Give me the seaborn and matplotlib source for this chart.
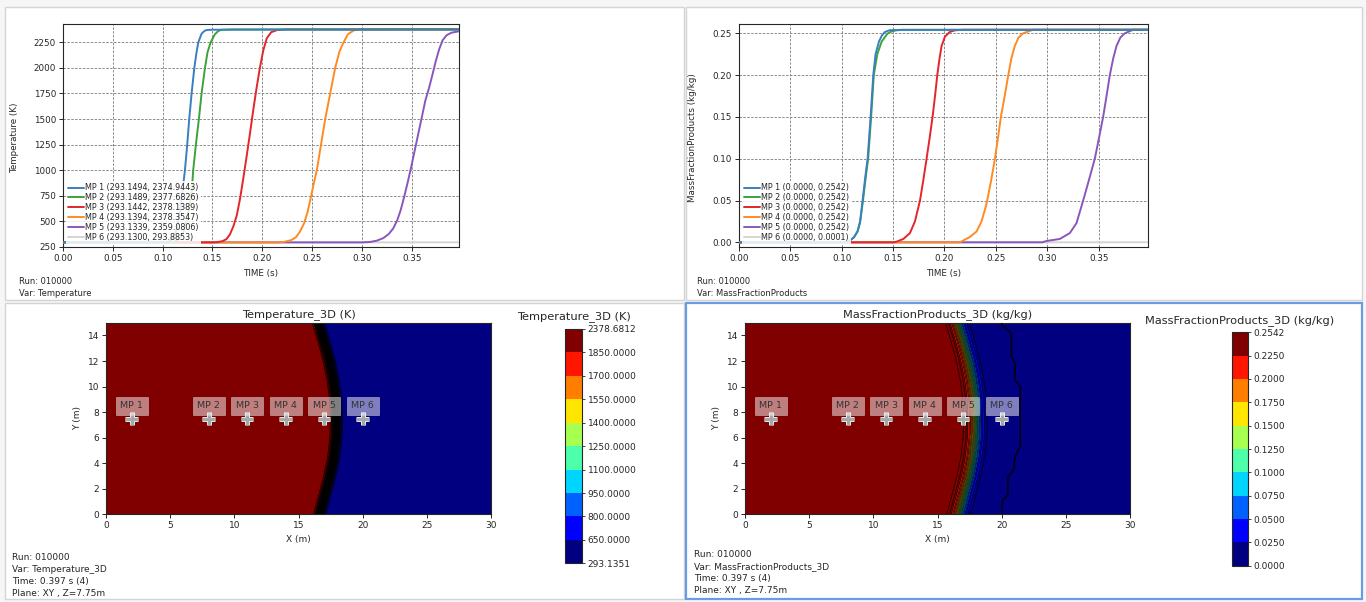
import numpy as np
import matplotlib
matplotlib.use("Agg")
import matplotlib.pyplot as plt
import matplotlib.patheffects as pe
from matplotlib.colors import BoundaryNorm
from matplotlib.patches import Rectangle
from matplotlib.ticker import FormatStrFormatter, MultipleLocator
import seaborn as sns

# ------------------------------------------------------------------
# Monitoring-point histories
# ------------------------------------------------------------------
mp_names = ["MP 1", "MP 2", "MP 3", "MP 4", "MP 5", "MP 6"]
mp_colors = ["#3a7fc1", "#3aa33a", "#e2262a", "#ff8a22", "#8a56bd", "#d4d4d4"]

# Temperature (K)
temp_t_mp1 = [0.000, 0.100, 0.106, 0.110, 0.114, 0.117, 0.1195, 0.1224, 0.1247, 0.1267, 0.1291,
              0.1318, 0.1340, 0.1358, 0.1391, 0.1420, 0.1442, 0.1500, 0.2000, 0.3975]
temp_v_mp1 = [293.1494, 293.1494, 300.0, 330.0, 420.0, 560.0, 760.0, 1000.0, 1250.0, 1500.0, 1750.0,
              2000.0, 2150.0, 2250.0, 2335.0, 2362.0, 2371.0, 2374.0, 2374.8, 2374.9443]
temp_t_mp2 = [0.000, 0.106, 0.112, 0.117, 0.121, 0.124, 0.127, 0.1295, 0.1307, 0.1334, 0.1364,
              0.1391, 0.1425, 0.1450, 0.1482, 0.1525, 0.1560, 0.1590, 0.1700, 0.3975]
temp_v_mp2 = [293.1489, 293.1489, 300.0, 330.0, 400.0, 500.0, 650.0, 830.0, 1000.0, 1250.0, 1500.0,
              1750.0, 2000.0, 2150.0, 2250.0, 2330.0, 2362.0, 2373.0, 2377.0, 2377.6826]
temp_t_mp3 = [0.000, 0.150, 0.155, 0.160, 0.164, 0.1675, 0.171, 0.1745, 0.1777, 0.181, 0.1844,
              0.1877, 0.191, 0.1944, 0.1978, 0.201, 0.2045, 0.209, 0.215, 0.225, 0.3975]
temp_v_mp3 = [293.1442, 293.1442, 296.0, 305.0, 325.0, 370.0, 450.0, 560.0, 720.0, 920.0, 1140.0,
              1360.0, 1590.0, 1810.0, 2010.0, 2170.0, 2290.0, 2350.0, 2371.0, 2377.5, 2378.1389]
temp_t_mp4 = [0.000, 0.215, 0.222, 0.229, 0.234, 0.238, 0.242, 0.2455, 0.2485, 0.2515, 0.2548,
              0.2590, 0.2632, 0.2682, 0.2732, 0.2775, 0.2816, 0.2860, 0.2920, 0.3000, 0.3975]
temp_v_mp4 = [293.1394, 293.1394, 298.0, 315.0, 345.0, 400.0, 480.0, 590.0, 720.0, 860.0, 1000.0,
              1250.0, 1500.0, 1750.0, 2000.0, 2160.0, 2250.0, 2330.0, 2368.0, 2377.0, 2378.3547]
temp_t_mp5 = [0.000, 0.300, 0.308, 0.315, 0.3215, 0.327, 0.3315, 0.3355, 0.3390, 0.3425, 0.3460,
              0.3495, 0.3530, 0.3565, 0.3600, 0.3637, 0.3670, 0.3705, 0.3740, 0.3775, 0.3810,
              0.3850, 0.3900, 0.3975]
temp_v_mp5 = [293.1339, 293.1339, 297.0, 310.0, 335.0, 375.0, 430.0, 510.0, 610.0, 740.0, 880.0,
              1030.0, 1190.0, 1350.0, 1510.0, 1680.0, 1790.0, 1920.0, 2060.0, 2180.0, 2270.0,
              2320.0, 2345.0, 2359.0806]
temp_t_mp6 = [0.000, 0.100, 0.200, 0.300, 0.350, 0.3975]
temp_v_mp6 = [293.1300, 293.1300, 293.1350, 293.2000, 293.5000, 293.8853]

# Mass fraction of products (kg/kg)
mf_t_mp1 = [0.000, 0.104, 0.108, 0.112, 0.1155, 0.1180, 0.1204, 0.1230, 0.1253, 0.1282, 0.1308,
            0.1330, 0.1363, 0.1390, 0.1420, 0.1470, 0.1600, 0.3975]
mf_v_mp1 = [0.0, 0.0, 0.002, 0.006, 0.013, 0.025, 0.050, 0.078, 0.100, 0.150, 0.200,
            0.225, 0.240, 0.247, 0.2515, 0.2538, 0.2541, 0.2542]
mf_t_mp2 = [0.000, 0.104, 0.108, 0.112, 0.1155, 0.1180, 0.1208, 0.1235, 0.1258, 0.1287, 0.1313,
            0.1347, 0.1389, 0.1445, 0.1486, 0.1530, 0.1580, 0.3975]
mf_v_mp2 = [0.0, 0.0, 0.002, 0.006, 0.013, 0.024, 0.050, 0.078, 0.100, 0.150, 0.200,
            0.225, 0.240, 0.2495, 0.2522, 0.2535, 0.2541, 0.2542]
mf_t_mp3 = [0.000, 0.150, 0.1535, 0.160, 0.1664, 0.1713, 0.1762, 0.1795, 0.1826, 0.1856, 0.1884,
            0.1908, 0.1930, 0.1952, 0.1972, 0.2005, 0.2050, 0.2100, 0.2182, 0.3975]
mf_v_mp3 = [0.0, 0.0, 0.0008, 0.004, 0.011, 0.025, 0.050, 0.075, 0.100, 0.125, 0.150,
            0.175, 0.200, 0.220, 0.235, 0.246, 0.2515, 0.2535, 0.2542, 0.2542]
mf_t_mp4 = [0.000, 0.215, 0.2247, 0.2312, 0.2360, 0.2402, 0.2415, 0.2455, 0.2490, 0.2520, 0.2548,
            0.2585, 0.2620, 0.2650, 0.2684, 0.2720, 0.2765, 0.2862, 0.3975]
mf_v_mp4 = [0.0, 0.0, 0.0064, 0.013, 0.025, 0.043, 0.050, 0.075, 0.100, 0.125, 0.150,
            0.175, 0.200, 0.220, 0.235, 0.245, 0.250, 0.2542, 0.2542]
mf_t_mp5 = [0.000, 0.295, 0.2992, 0.3120, 0.3218, 0.3283, 0.3348, 0.3405, 0.3461, 0.3502, 0.3542,
            0.3575, 0.3607, 0.3640, 0.3672, 0.3710, 0.3753, 0.3834, 0.3975]
mf_v_mp5 = [0.0, 0.0, 0.0016, 0.004, 0.011, 0.023, 0.050, 0.075, 0.100, 0.125, 0.150,
            0.175, 0.200, 0.220, 0.235, 0.245, 0.250, 0.2542, 0.2542]
mf_t_mp6 = [0.000, 0.200, 0.300, 0.3975]
mf_v_mp6 = [0.0, 0.0, 0.00002, 0.0001]

# ------------------------------------------------------------------
# Plane slice XY, Z = 7.75 m
# ------------------------------------------------------------------
# flame front centre line (x at given y)
front_y = [0.0, 1.5, 3.0, 4.5, 6.0, 7.5, 9.0, 10.5, 12.0, 13.5, 15.0]
front_x = [16.65, 17.05, 17.45, 17.75, 17.92, 17.95, 17.90, 17.70, 17.40, 17.00, 16.55]
# outer edge of the product precursor
precursor_y = [0.0, 1.12, 1.51, 2.95, 3.47, 4.51, 5.30, 9.99, 10.51, 11.82, 12.34, 14.17, 14.82, 15.0]
precursor_x = [20.0, 20.08, 20.49, 20.49, 20.94, 21.04, 21.45, 21.45, 21.04, 21.04, 20.77, 20.77, 20.0, 20.0]

temp_range = [293.1351, 2378.6812]
mf_range = [0.0, 0.2542]
temp_levels = [293.1351, 650.0, 800.0, 950.0, 1100.0, 1250.0, 1400.0, 1550.0, 1700.0, 1850.0, 2378.6812]
mf_levels = [0.0, 0.025, 0.05, 0.075, 0.10, 0.125, 0.15, 0.175, 0.20, 0.225, 0.2542]

mp_x = [2.0, 8.0, 11.0, 14.0, 17.0, 20.0]
mp_y = [7.5, 7.5, 7.5, 7.5, 7.5, 7.5]

# ------------------------------------------------------------------
W, H = 1366, 602
sns.set_style("ticks")
plt.rcParams.update({
    "axes.edgecolor": "#262626",
    "axes.linewidth": 0.8,
    "xtick.color": "#262626",
    "ytick.color": "#262626",
    "xtick.major.size": 3,
    "ytick.major.size": 3,
    "xtick.major.width": 0.7,
    "ytick.major.width": 0.7,
    "text.color": "#262626",
    "axes.labelcolor": "#262626",
})
plt.rcParams["font.family"] = ["DejaVu Sans"]

fig = plt.figure(figsize=(W / 100, H / 100), dpi=100)
fig.patch.set_facecolor("#f6f6f6")


def rect(l, t, r, b):
    return [l / W, 1 - b / H, (r - l) / W, (b - t) / H]


# panel frames
for (l, t, r, b, ec, lw) in [(5, 7, 684, 300, "#d4d4d4", 1.0),
                             (686, 7, 1362, 300, "#d4d4d4", 1.0),
                             (5, 303, 684, 599, "#d4d4d4", 1.0),
                             (686, 303, 1362, 599, "#6b9be6", 1.6)]:
    fig.add_artist(Rectangle((l / W, 1 - b / H), (r - l) / W, (b - t) / H,
                             transform=fig.transFigure, fc="white", ec=ec, lw=lw, zorder=-5))


def ftext(x, y, s, size, **kw):
    fig.text(x / W, 1 - y / H, s, fontsize=size, va="center", **kw)


# ---------------- history panels ----------------
temp_series = [(temp_t_mp1, temp_v_mp1), (temp_t_mp2, temp_v_mp2), (temp_t_mp3, temp_v_mp3),
               (temp_t_mp4, temp_v_mp4), (temp_t_mp5, temp_v_mp5), (temp_t_mp6, temp_v_mp6)]
mf_series = [(mf_t_mp1, mf_v_mp1), (mf_t_mp2, mf_v_mp2), (mf_t_mp3, mf_v_mp3),
             (mf_t_mp4, mf_v_mp4), (mf_t_mp5, mf_v_mp5), (mf_t_mp6, mf_v_mp6)]


def history(ax, series, ylabel, ylim, ystep, yfmt, ylabel_x):
    for i, ((t, v), name, col) in enumerate(zip(series, mp_names, mp_colors)):
        lab = f"{name} ({min(v):.4f}, {max(v):.4f})"
        sns.lineplot(x=t, y=v, ax=ax, color=col, linewidth=1.4, label=lab,
                     estimator=None, sort=False, zorder=10 - i)
    ax.set_xlim(0, 0.3975)
    ax.set_ylim(*ylim)
    ax.xaxis.set_major_locator(MultipleLocator(0.05))
    ax.xaxis.set_major_formatter(FormatStrFormatter("%.2f"))
    ax.yaxis.set_major_locator(MultipleLocator(ystep))
    ax.yaxis.set_major_formatter(FormatStrFormatter(yfmt))
    ax.grid(True, linestyle=(0, (2.5, 1.5)), color="#8a8a8a", linewidth=0.7)
    ax.tick_params(labelsize=6.3, pad=2)
    for s in ax.spines.values():
        s.set_visible(True)
    ax.set_xlabel("TIME (s)", fontsize=6.3, va="center")
    ax.xaxis.set_label_coords(0.5, -0.1166)
    ax.set_ylabel(ylabel, fontsize=6.3, va="center")
    ax.yaxis.set_label_coords(ylabel_x, 0.49)
    leg = ax.legend(loc="lower left", fontsize=5.8, framealpha=0.85, fancybox=False,
                    edgecolor="none", handlelength=2.0, handletextpad=0.15,
                    labelspacing=0.12, borderpad=0.25, borderaxespad=0.35)
    leg.set_zorder(20)


ax_t = fig.add_axes(rect(63, 24, 459, 247))
history(ax_t, temp_series, "Temperature (K)", (248, 2430), 250, "%d", -0.1212)
ax_m = fig.add_axes(rect(738.7, 24, 1147.7, 247))
history(ax_m, mf_series, "MassFractionProducts (kg/kg)", (-0.0056, 0.2611), 0.05, "%.2f", -0.1134)

ftext(19, 281, "Run: 010000", 6.0)
ftext(19, 293, "Var: Temperature", 6.0)
ftext(696.7, 281, "Run: 010000", 6.0)
ftext(696.7, 293, "Var: MassFractionProducts", 6.0)

# ---------------- slice panels ----------------
grid_x = np.linspace(0, 30, 601)
grid_y = np.linspace(0, 15, 301)
GX, GY = np.meshgrid(grid_x, grid_y)
xf = np.interp(grid_y, front_y, front_x)[:, None]


def burnt_fraction(width):
    return 0.5 * (1.0 - np.tanh((GX - xf) / width))


temp_field = np.clip(temp_range[0] + (temp_range[1] - temp_range[0]) * burnt_fraction(0.26),
                     temp_range[0], temp_range[1])
mf_field = np.clip(mf_range[0] + (mf_range[1] - mf_range[0]) * burnt_fraction(0.6),
                   mf_range[0], mf_range[1])


def slice_panel(ax, cax, field, levels, line_levels, line_w, title, cbar_title, cb_center, cb_y):
    norm = BoundaryNorm(levels, 256)
    cf = ax.contourf(GX, GY, field, levels=levels, cmap="jet", norm=norm)
    ax.contour(GX, GY, field, levels=line_levels, colors="k", linewidths=line_w)
    ax.plot(mp_x, mp_y, ls="none", marker="+", ms=9, mew=2.2, color="#a3a9a9", zorder=6,
            path_effects=[pe.Stroke(linewidth=3.6, foreground="#e6e6e6"), pe.Normal()])
    for x, y, name in zip(mp_x, mp_y, mp_names):
        ax.text(x, y + 1.0, name, ha="center", va="center", fontsize=6.8, color="#333333",
                zorder=7, bbox=dict(boxstyle="square,pad=0.5", fc="white", ec="#dddddd",
                                    lw=0.6, alpha=0.5))
    ax.set_xlim(0, 30)
    ax.set_ylim(0, 15)
    ax.xaxis.set_major_locator(MultipleLocator(5))
    ax.yaxis.set_major_locator(MultipleLocator(2))
    ax.tick_params(labelsize=6.5, pad=2)
    for s in ax.spines.values():
        s.set_visible(True)
    ax.set_title(title, fontsize=8.2, pad=4)
    ax.set_xlabel("X (m)", fontsize=6.5, va="center")
    ax.xaxis.set_label_coords(0.5, -0.1305)
    ax.set_ylabel("Y (m)", fontsize=6.5, va="center")
    ax.yaxis.set_label_coords(-0.075, 0.5)
    cb = fig.colorbar(cf, cax=cax, ticks=levels)
    cb.ax.yaxis.set_major_formatter(FormatStrFormatter("%.4f"))
    cb.ax.tick_params(labelsize=6.5, length=2, width=0.6, pad=2)
    cb.outline.set_linewidth(0.8)
    ftext(cb_center, cb_y, cbar_title, 8.2, ha="center")
    return cf


ax_s1 = fig.add_axes(rect(106, 322.7, 491, 514.3))
cax1 = fig.add_axes(rect(565, 329, 582, 563.3))
slice_panel(ax_s1, cax1, temp_field, temp_levels,
            np.linspace(temp_range[0], temp_range[1], 42)[1:-1], 0.5,
            "Temperature_3D (K)", "Temperature_3D (K)", 573.5, 317)

ax_s2 = fig.add_axes(rect(745, 322.7, 1130, 514.3))
cax2 = fig.add_axes(rect(1232, 332.3, 1248, 565.7))
slice_panel(ax_s2, cax2, mf_field, mf_levels,
            np.linspace(mf_range[0], mf_range[1], 24)[1:-1], 0.45,
            "MassFractionProducts_3D (kg/kg)", "MassFractionProducts_3D (kg/kg)", 1240, 320.7)
ax_s2.plot(precursor_x, precursor_y, color="k", lw=1.0, zorder=5)

for i, s in enumerate(["Run: 010000", "Var: Temperature_3D", "Time: 0.397 s (4)", "Plane: XY , Z=7.75m"]):
    ftext(12, 557.3 + 12 * i, s, 6.5)
for i, s in enumerate(["Run: 010000", "Var: MassFractionProducts_3D", "Time: 0.397 s (4)",
                       "Plane: XY , Z=7.75m"]):
    ftext(694.4, 554.3 + 12 * i, s, 6.5)

fig.savefig("out.png", dpi=100, facecolor=fig.get_facecolor())
